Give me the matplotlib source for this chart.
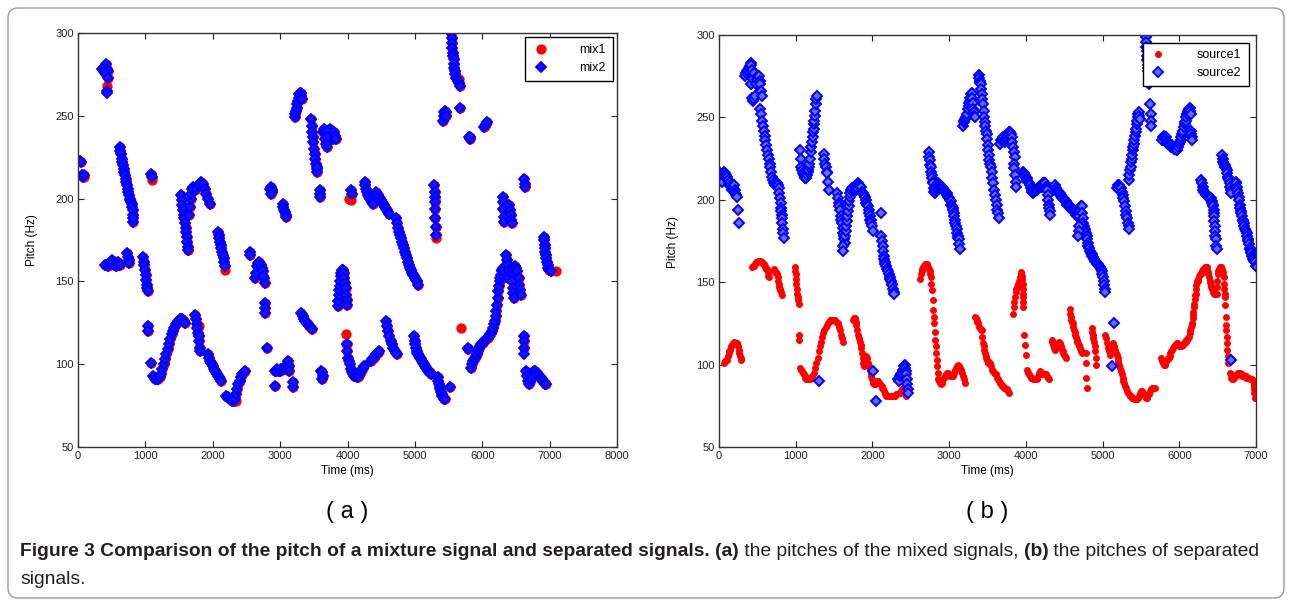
import numpy as np
import matplotlib
matplotlib.use("Agg")
import matplotlib.pyplot as plt
from matplotlib.patches import FancyBboxPatch

W, H = 1292, 604

# ---- panel (a): pitch of the mixed signals (mix1 and mix2 nearly coincide) ----
mix_shared = [
    (360, 278), (380, 279), (400, 280), (415, 281), (430, 278), (450, 277), (400, 276), (440, 273),
    (435, 265),
    (30, 223), (40, 222), (60, 214), (80, 213), (90, 214),
    (620, 231), (630, 229), (640, 227), (650, 224), (660, 222), (668, 220), (678, 218), (688, 216),
    (698, 214), (708, 212), (717, 210), (727, 208), (737, 206), (747, 204), (757, 202), (767, 200),
    (777, 199), (787, 198), (797, 197), (807, 195), (816, 193), (820, 190), (816, 186), (812, 188),
    (1090, 215), (1095, 213),
    (400, 160), (420, 160), (440, 159), (460, 161), (480, 162), (500, 163), (520, 162), (540, 160),
    (560, 159), (580, 161), (600, 162), (620, 160),
    (730, 167), (740, 165), (750, 163), (755, 161),
    (965, 165), (975, 162), (985, 160), (995, 157), (1005, 154), (1014, 151), (1022, 148), (1030, 146),
    (1039, 144),
    (1040, 123), (1045, 120), (1078, 101),
    (1110, 93), (1130, 92), (1150, 91), (1170, 91), (1190, 91), (1210, 92), (1230, 94), (1250, 97),
    (1270, 100), (1290, 103), (1310, 106), (1330, 109), (1350, 112), (1370, 115), (1390, 118),
    (1410, 120), (1430, 122), (1450, 124), (1470, 125), (1490, 126), (1510, 127), (1530, 127),
    (1550, 127), (1570, 126), (1584, 125),
    (1533, 202), (1540, 199), (1550, 196), (1560, 193), (1570, 190), (1580, 188), (1590, 185),
    (1600, 182), (1608, 180), (1615, 177), (1625, 174), (1633, 171), (1640, 169),
    (1650, 190), (1660, 195), (1670, 200), (1683, 203), (1695, 206), (1707, 207), (1720, 206),
    (1740, 205), (1757, 206), (1775, 208), (1800, 209), (1830, 210), (1856, 209), (1880, 206),
    (1905, 203), (1930, 200), (1955, 197),
    (1742, 130), (1752, 127), (1762, 124), (1772, 122), (1780, 119), (1790, 117), (1800, 114),
    (1806, 110), (1810, 108),
    (1930, 106), (1945, 104), (1960, 102), (1975, 101), (1990, 100), (2005, 99), (2020, 97),
    (2035, 96), (2050, 95), (2065, 94), (2079, 93), (2095, 92), (2110, 91), (2118, 90),
    (2079, 180), (2090, 178), (2100, 176), (2110, 174), (2120, 172), (2128, 170), (2140, 168),
    (2150, 166), (2160, 164), (2170, 162), (2178, 159),
    (2190, 81), (2210, 80), (2230, 80), (2250, 79), (2270, 79), (2290, 78), (2310, 78), (2330, 79),
    (2340, 82), (2360, 85), (2380, 88), (2400, 90), (2420, 92), (2440, 94), (2460, 95), (2475, 96),
    (2550, 168), (2555, 166),
    (2620, 152), (2640, 155), (2660, 159), (2671, 161), (2690, 162), (2710, 160), (2730, 158),
    (2745, 156), (2760, 152), (2770, 149), (2750, 153),
    (2770, 137), (2775, 134), (2772, 131), (2810, 110),
    (2855, 206), (2865, 207), (2875, 205), (2885, 204), (2870, 203),
    (3040, 197), (3050, 195), (3060, 193), (3070, 192), (3080, 190), (3090, 189),
    (2920, 96), (2940, 96), (2960, 97), (2980, 96), (3000, 96), (3020, 97), (3040, 97), (3060, 97),
    (3080, 98), (3100, 100), (3116, 102), (3125, 99), (3130, 96),
    (2918, 87), (3190, 86), (3185, 89),
    (3215, 249), (3225, 251), (3235, 253), (3245, 255), (3255, 257), (3265, 259), (3275, 261),
    (3285, 263), (3295, 264), (3304, 264), (3315, 262), (3320, 260),
    (3315, 131), (3335, 129), (3355, 127), (3375, 126), (3395, 125), (3415, 124), (3435, 123),
    (3455, 122), (3475, 121),
    (3462, 248), (3470, 244), (3478, 240), (3487, 237), (3495, 234), (3503, 230), (3512, 227),
    (3520, 224), (3530, 221), (3540, 218), (3551, 216), (3545, 219),
    (3586, 205), (3596, 203), (3590, 201),
    (3610, 96), (3620, 95), (3630, 93), (3625, 91),
    (3640, 240), (3650, 242), (3660, 240), (3670, 236), (3680, 233), (3690, 231), (3700, 234),
    (3715, 238), (3730, 240), (3745, 242), (3760, 240), (3770, 238), (3780, 236), (3700, 241),
    (3690, 237), (3800, 240), (3815, 238), (3828, 236),
    (3858, 135), (3865, 138), (3870, 142), (3878, 145), (3883, 147), (3890, 150), (3900, 153),
    (3910, 155), (3920, 157), (3932, 157), (3945, 155), (3955, 152), (3965, 149), (3975, 146),
    (3982, 142), (3990, 139), (3995, 136),
    (3996, 112), (3996, 108), (4010, 104), (4020, 102), (4031, 100), (4045, 97), (4060, 95),
    (4080, 94), (4100, 93), (4120, 93), (4140, 92), (4155, 92), (4175, 93), (4195, 95), (4215, 97),
    (4229, 98), (4240, 99),
    (4056, 205), (4060, 203),
    (4254, 210), (4265, 208), (4275, 206), (4290, 204), (4305, 202), (4320, 201), (4335, 200),
    (4350, 199), (4365, 198), (4378, 197),
    (4353, 102), (4370, 103), (4390, 104), (4410, 105), (4430, 106), (4450, 107), (4470, 108),
    (4427, 204), (4440, 203), (4455, 202), (4470, 201), (4485, 200), (4500, 199), (4515, 198),
    (4530, 197), (4545, 196), (4560, 195), (4575, 194), (4590, 193), (4605, 192), (4620, 191),
    (4575, 126), (4590, 123), (4605, 120), (4620, 117), (4640, 114), (4660, 112), (4680, 110),
    (4700, 108), (4720, 107), (4740, 106),
    (4724, 188), (4740, 185), (4755, 182), (4770, 180), (4785, 178), (4798, 176), (4812, 174),
    (4826, 172), (4840, 170), (4855, 168), (4870, 166), (4885, 164), (4900, 162), (4915, 160),
    (4930, 158), (4946, 157), (4960, 155), (4975, 154), (4990, 153), (5005, 152), (5020, 151),
    (5035, 150), (5040, 148),
    (4985, 117), (4995, 114), (5005, 112), (5015, 110), (5025, 108), (5035, 107), (5050, 106),
    (5065, 105), (5080, 104), (5095, 103), (5110, 102), (5125, 101), (5140, 100), (5155, 99),
    (5170, 98), (5185, 97), (5200, 96), (5215, 95), (5230, 95), (5245, 94),
    (5290, 208), (5292, 204), (5294, 201), (5300, 198), (5302, 194), (5305, 188), (5308, 183),
    (5312, 178),
    (5341, 92), (5350, 90), (5360, 88), (5370, 86), (5380, 85), (5390, 83), (5400, 82), (5410, 81),
    (5420, 80), (5430, 79), (5440, 79),
    (5514, 86),
    (5540, 300), (5545, 297), (5552, 294), (5558, 291), (5564, 288), (5570, 286), (5576, 284),
    (5582, 281), (5588, 279), (5595, 277), (5602, 275), (5610, 273), (5620, 272), (5635, 271),
    (5648, 270), (5663, 268),
    (5677, 255),
    (5415, 247), (5425, 250), (5435, 252), (5445, 253), (5455, 252), (5465, 250),
    (5800, 237), (5811, 236), (5820, 237),
    (6033, 243), (6045, 244), (6060, 245), (6075, 246),
    (5786, 110), (5795, 109),
    (5836, 98), (5850, 100), (5865, 102), (5880, 103), (5895, 104), (5910, 105), (5925, 106),
    (5940, 108), (5955, 110), (5970, 111), (5985, 112), (6000, 113), (6015, 113), (6033, 114),
    (6050, 115), (6065, 116), (6080, 116), (6095, 117), (6110, 118), (6125, 119), (6140, 120),
    (6155, 122), (6170, 124), (6185, 126), (6200, 129), (6210, 132), (6220, 136), (6231, 140),
    (6240, 144), (6250, 147), (6260, 150), (6270, 152), (6281, 154), (6290, 156), (6300, 157),
    (6315, 158), (6330, 157), (6345, 155), (6360, 153), (6375, 152),
    (6355, 166), (6360, 163), (6365, 160),
    (6305, 201), (6310, 198), (6315, 194), (6320, 189), (6325, 186),
    (6400, 196), (6410, 193), (6420, 190), (6430, 187), (6440, 185),
    (6380, 160), (6400, 157), (6420, 155), (6440, 155), (6460, 157), (6480, 159), (6500, 158),
    (6520, 156), (6540, 152), (6550, 148), (6560, 145), (6570, 142),
    (6440, 150), (6450, 146), (6460, 143), (6475, 140),
    (6627, 212), (6630, 209), (6632, 207),
    (6617, 117), (6620, 114), (6622, 110),
    (6652, 96), (6665, 93), (6680, 90), (6695, 88), (6710, 89), (6725, 91), (6740, 93), (6755, 95),
    (6770, 96), (6785, 96), (6800, 95), (6815, 94), (6830, 94), (6845, 93), (6860, 92), (6875, 91),
    (6890, 91), (6905, 90), (6920, 89), (6935, 88), (6949, 88),
    (6914, 177), (6920, 175), (6925, 172), (6930, 170), (6938, 168), (6945, 166), (6952, 164),
    (6960, 162), (6970, 160), (6983, 158), (6995, 157), (7010, 157), (7023, 156),
]
mix1_extra = [(435, 268), (95, 213), (1097, 211), (1633, 169), (3982, 118), (4056, 199),
              (5300, 199), (5316, 176), (5687, 122), (7097, 156), (5662, 272), (1800, 123),
              (2345, 78), (2180, 157), (1790, 110), (4020, 200), (3985, 112)]
mix2_extra = [(437, 264), (1800, 117), (6622, 106)]

# ---- panel (b): pitch of the separated signals ----
source1_pts = [
    (61, 101), (75, 102), (90, 103), (105, 103), (115, 105), (125, 107), (135, 108), (148, 109),
    (158, 111), (170, 112), (180, 113), (192, 114), (205, 113), (215, 113), (225, 113), (235, 113),
    (245, 111), (257, 109), (265, 107), (275, 105), (282, 104), (292, 103),
    (431, 159), (442, 160), (452, 160), (463, 161), (474, 161), (485, 162), (497, 162), (508, 163),
    (518, 163), (528, 163), (540, 163), (550, 162), (560, 162), (570, 161), (583, 161), (595, 160),
    (605, 159), (615, 158), (627, 158), (635, 156), (642, 154), (648, 153),
    (713, 158), (722, 157), (730, 156), (740, 156), (750, 155), (757, 155), (765, 153), (772, 151),
    (779, 149), (785, 147), (792, 146), (800, 145), (810, 144), (822, 142),
    (987, 159), (993, 157), (999, 155), (1005, 152), (1010, 149), (1014, 146), (1018, 143),
    (1025, 141), (1032, 139), (1040, 137),
    (1040, 118), (1045, 115),
    (1061, 98), (1070, 97), (1080, 96), (1090, 95), (1105, 94), (1115, 93), (1125, 92), (1135, 91),
    (1148, 91), (1160, 91), (1170, 91), (1180, 91), (1190, 92), (1200, 92), (1213, 93), (1235, 95),
    (1255, 98), (1270, 101), (1285, 104), (1300, 108), (1315, 111), (1330, 114), (1345, 117),
    (1360, 119), (1375, 121), (1390, 123), (1405, 124), (1420, 125), (1435, 126), (1450, 127),
    (1470, 127), (1490, 127), (1510, 127), (1530, 126), (1550, 125), (1565, 123), (1580, 121),
    (1592, 118), (1600, 116), (1614, 114),
    (1750, 127), (1760, 128), (1770, 128), (1780, 126), (1790, 124), (1800, 121), (1813, 118),
    (1825, 116), (1835, 114), (1848, 112), (1855, 110), (1865, 107), (1875, 104), (1883, 101),
    (1892, 99), (1900, 100), (1910, 103), (1920, 105), (1930, 104), (1944, 101), (1955, 99),
    (1965, 97), (1975, 95), (1987, 93), (2000, 91), (2010, 89), (2020, 88), (2031, 88), (2045, 89),
    (2060, 90), (2074, 90), (2090, 89), (2105, 88), (2120, 87), (2130, 86), (2140, 85), (2150, 84),
    (2160, 83), (2170, 82), (2183, 81), (2200, 81), (2215, 81), (2227, 81), (2240, 81), (2255, 81),
    (2270, 81), (2292, 81), (2310, 82), (2325, 82), (2340, 83), (2357, 83), (2370, 84), (2385, 85),
    (2400, 86), (2412, 84), (2422, 82), (2432, 81),
    (2618, 152), (2628, 155), (2640, 157), (2651, 158), (2661, 159), (2672, 160), (2683, 161),
    (2694, 161), (2705, 161), (2716, 160), (2727, 159), (2737, 158), (2748, 157), (2755, 155),
    (2761, 153), (2770, 149), (2779, 145), (2785, 139), (2792, 133), (2798, 129), (2805, 125),
    (2814, 120), (2822, 115), (2828, 111), (2835, 107), (2842, 103), (2848, 99), (2852, 95),
    (2857, 91), (2870, 90), (2883, 89), (2896, 88), (2909, 89), (2920, 91), (2932, 92), (2944, 93),
    (2955, 94), (2966, 94), (2976, 95), (2987, 95), (3000, 94), (3012, 93), (3025, 93), (3040, 93),
    (3053, 93), (3065, 95), (3078, 97), (3090, 98), (3105, 99), (3118, 100), (3130, 99), (3140, 98),
    (3150, 97), (3161, 97), (3170, 95), (3180, 93), (3190, 91), (3205, 89),
    (3335, 129), (3345, 128), (3357, 127), (3368, 126), (3379, 125), (3390, 123), (3400, 122),
    (3411, 121), (3422, 121), (3433, 117), (3444, 113), (3452, 111), (3460, 109), (3467, 107),
    (3474, 105), (3480, 104), (3490, 103), (3500, 102), (3509, 101), (3520, 101), (3531, 101),
    (3545, 99), (3560, 97), (3575, 96), (3590, 95), (3605, 94), (3620, 92), (3635, 91), (3650, 90),
    (3661, 89), (3675, 88), (3690, 87), (3705, 87), (3717, 86), (3727, 86), (3740, 85), (3755, 85),
    (3770, 84), (3783, 83),
    (3835, 131), (3840, 135), (3846, 138), (3857, 141), (3865, 144), (3875, 146), (3885, 147),
    (3901, 149), (3910, 151), (3920, 153), (3931, 155), (3938, 156), (3945, 154), (3950, 152),
    (3957, 149), (3960, 146), (3963, 143), (3966, 141), (3966, 138), (3966, 135),
    (3975, 118), (3988, 112), (4001, 106),
    (4018, 97), (4030, 95), (4040, 94), (4050, 93), (4063, 92), (4075, 92), (4090, 91), (4105, 91),
    (4120, 91), (4140, 91), (4155, 93), (4170, 95), (4185, 96), (4205, 95), (4220, 94), (4235, 94),
    (4250, 94), (4262, 94), (4275, 93), (4290, 92), (4305, 91),
    (4336, 115), (4345, 114), (4355, 112), (4365, 110), (4379, 109), (4390, 110), (4400, 111),
    (4410, 112), (4420, 113), (4435, 114), (4444, 113), (4455, 111), (4465, 109), (4478, 108),
    (4488, 107), (4500, 106), (4510, 105), (4522, 104),
    (4575, 134), (4580, 131), (4587, 129), (4594, 127), (4600, 126), (4609, 125), (4618, 123),
    (4627, 121), (4636, 120), (4645, 118), (4653, 117), (4662, 115), (4670, 114), (4680, 113),
    (4690, 112), (4696, 111), (4705, 110), (4713, 109), (4720, 108), (4727, 107),
    (4780, 107), (4783, 101), (4788, 92), (4792, 86),
    (4857, 122), (4865, 120), (4872, 118), (4880, 116), (4888, 114), (4895, 111), (4901, 108),
    (4908, 104), (4914, 100),
    (5031, 118), (5045, 116), (5060, 113), (5074, 110), (5085, 108), (5095, 106),
    (5139, 113), (5150, 111), (5160, 109), (5172, 107), (5183, 106), (5195, 104), (5205, 102),
    (5215, 100), (5226, 98), (5236, 96), (5248, 94), (5260, 92), (5270, 90), (5280, 89), (5290, 87),
    (5300, 86), (5313, 84), (5325, 83), (5340, 82), (5355, 81), (5370, 81), (5387, 80), (5400, 80),
    (5415, 79), (5430, 79), (5444, 79), (5460, 80), (5475, 81), (5490, 83), (5500, 84), (5509, 84),
    (5520, 83), (5535, 82), (5550, 81), (5563, 80), (5574, 80), (5585, 81), (5600, 82), (5615, 84),
    (5630, 85), (5645, 86), (5660, 86), (5678, 86),
    (5765, 104), (5775, 102), (5787, 101), (5800, 100), (5809, 100), (5820, 101), (5833, 102),
    (5845, 103), (5855, 104), (5865, 104), (5875, 105), (5885, 107), (5895, 108), (5910, 109),
    (5921, 110), (5933, 111), (5945, 112), (5955, 112), (5965, 113), (5974, 113), (5985, 112),
    (5995, 111), (6008, 111), (6018, 111), (6026, 111), (6035, 112), (6045, 112), (6055, 113),
    (6065, 113), (6075, 114), (6083, 114), (6092, 115), (6100, 115), (6110, 116), (6118, 116),
    (6126, 117), (6135, 119), (6145, 121), (6155, 123), (6162, 124), (6169, 125), (6175, 128),
    (6180, 130), (6185, 132), (6191, 135), (6197, 137), (6203, 140), (6208, 142), (6213, 143),
    (6218, 146), (6222, 148), (6228, 150), (6235, 151), (6243, 151), (6250, 152), (6260, 154),
    (6270, 155), (6278, 155), (6290, 157), (6300, 157), (6310, 158), (6322, 158), (6333, 159),
    (6345, 159), (6357, 159), (6365, 157), (6372, 156), (6380, 155), (6387, 153), (6395, 151),
    (6403, 150), (6410, 148), (6417, 147), (6425, 146), (6435, 145), (6443, 144), (6452, 143),
    (6460, 143), (6470, 143), (6478, 143), (6487, 143), (6492, 147), (6496, 151), (6500, 155),
    (6510, 157), (6520, 158), (6530, 159), (6540, 159), (6550, 159), (6561, 158), (6570, 156),
    (6578, 153), (6583, 149), (6588, 146), (6592, 143), (6596, 141), (6600, 136), (6604, 129),
    (6608, 124), (6612, 121), (6617, 117), (6622, 113), (6626, 109), (6630, 105), (6635, 101),
    (6661, 95), (6670, 94), (6680, 92), (6691, 91), (6700, 91), (6712, 92), (6723, 93), (6735, 93),
    (6748, 94), (6760, 95), (6770, 95), (6780, 95), (6791, 95), (6802, 94), (6813, 94), (6823, 93),
    (6833, 93), (6843, 93), (6855, 93), (6866, 93), (6875, 92), (6885, 92), (6896, 92), (6910, 92),
    (6924, 91), (6938, 91), (6952, 91), (6962, 90), (6970, 88), (6974, 87), (6978, 85), (6980, 83),
    (6983, 80),
]

source2_pts = [
    (18, 216), (30, 214), (40, 211), (50, 215), (61, 217), (75, 216), (90, 215), (105, 214),
    (115, 212), (126, 209), (135, 210), (148, 211), (160, 209), (170, 206), (180, 208), (192, 209),
    (203, 206), (213, 204), (222, 203), (235, 202), (248, 194), (257, 186),
    (344, 275), (355, 277), (365, 278), (375, 279), (387, 280), (400, 281), (412, 283), (422, 282),
    (432, 279), (440, 276), (431, 271), (420, 270), (445, 273), (452, 277), (431, 262), (440, 260),
    (452, 261), (465, 263), (480, 270), (496, 273), (505, 275), (518, 275), (528, 272), (540, 270),
    (550, 266), (561, 263),
    (540, 255), (550, 252), (561, 248), (572, 245), (583, 242), (594, 239), (605, 236), (616, 233),
    (627, 230), (638, 227), (648, 225), (659, 222), (670, 220), (681, 217), (692, 214), (703, 212),
    (713, 210), (725, 209), (735, 210), (744, 211), (757, 210), (770, 209), (780, 207), (787, 204),
    (796, 201), (805, 198), (810, 195), (813, 193), (818, 191), (822, 189), (826, 186), (831, 182),
    (838, 180), (844, 177),
    (1061, 230), (1068, 225), (1074, 220), (1085, 218), (1095, 216), (1105, 215), (1115, 214),
    (1125, 213), (1135, 213), (1145, 215), (1155, 217), (1161, 218), (1170, 220), (1179, 222),
    (1192, 225), (1198, 229), (1205, 232), (1213, 235), (1222, 238), (1228, 241), (1235, 243),
    (1240, 246), (1244, 248), (1250, 251), (1257, 254), (1263, 258), (1270, 261), (1279, 263),
    (1300, 90),
    (1366, 228), (1375, 225), (1387, 222), (1395, 220), (1405, 217), (1409, 216), (1420, 211),
    (1431, 206),
    (1540, 204), (1550, 201), (1561, 198), (1570, 196), (1583, 194), (1590, 190), (1595, 188),
    (1605, 186), (1612, 183), (1617, 180), (1626, 178), (1632, 176), (1640, 174), (1620, 172),
    (1614, 169), (1648, 178), (1655, 181), (1660, 184), (1665, 187), (1670, 190), (1680, 193),
    (1692, 196), (1700, 199), (1706, 202), (1713, 204), (1724, 206), (1735, 207),
    (1770, 208), (1780, 207), (1790, 206), (1800, 207), (1813, 210), (1825, 209), (1840, 208),
    (1857, 208), (1870, 205), (1880, 204), (1890, 203), (1900, 202), (1910, 200), (1920, 198),
    (1930, 197), (1944, 196), (1950, 194), (1960, 192), (1965, 190), (1970, 188), (1979, 188),
    (1985, 186), (1995, 184), (2009, 181),
    (2109, 192),
    (2118, 178), (2125, 175), (2132, 172), (2140, 169), (2148, 166), (2155, 164), (2162, 162),
    (2170, 161), (2180, 160), (2190, 158), (2205, 157), (2215, 155), (2225, 153), (2232, 152),
    (2240, 151), (2250, 149), (2260, 148), (2270, 146), (2277, 144), (2283, 143),
    (2009, 96), (2053, 78),
    (2327, 91), (2340, 90), (2355, 93), (2370, 94), (2379, 95), (2395, 97), (2410, 99), (2422, 100),
    (2430, 98), (2436, 96), (2444, 94), (2450, 91), (2456, 88), (2462, 85), (2466, 83),
    (2735, 229), (2740, 226), (2746, 224), (2752, 221), (2761, 220), (2766, 217), (2772, 215),
    (2778, 213), (2785, 211), (2792, 210), (2800, 207), (2806, 205), (2813, 204), (2822, 206),
    (2830, 207), (2840, 208), (2850, 209), (2857, 210), (2865, 209), (2875, 209), (2885, 208),
    (2895, 208), (2909, 208), (2920, 207), (2930, 206), (2940, 205), (2950, 205), (2966, 204),
    (2975, 203), (2985, 202), (2995, 201), (3009, 200), (3018, 199), (3027, 197), (3036, 196),
    (3045, 195), (3053, 194), (3060, 192), (3067, 190), (3074, 188), (3080, 186), (3087, 184),
    (3096, 182), (3105, 180), (3113, 178), (3120, 177), (3127, 176), (3133, 173), (3140, 170),
    (3183, 245), (3190, 247), (3200, 248), (3210, 249), (3220, 250), (3227, 250), (3235, 252),
    (3245, 255), (3255, 257), (3262, 259), (3270, 260), (3278, 262), (3285, 264), (3292, 265),
    (3300, 262), (3305, 259), (3314, 255), (3322, 253), (3328, 251), (3335, 250),
    (3387, 276), (3394, 274), (3400, 272), (3407, 271), (3414, 270), (3420, 267), (3425, 264),
    (3431, 261), (3440, 258), (3448, 254), (3457, 250), (3465, 247), (3472, 245), (3480, 242),
    (3487, 240), (3494, 237), (3502, 233), (3509, 230), (3516, 227), (3524, 224), (3531, 222),
    (3540, 220), (3553, 217), (3565, 213), (3574, 210), (3585, 206), (3596, 203), (3607, 200),
    (3618, 197), (3630, 194), (3640, 192), (3653, 189),
    (3661, 234), (3672, 236), (3683, 237), (3694, 237), (3705, 238), (3716, 236), (3727, 235),
    (3738, 236), (3748, 237), (3760, 239), (3770, 240), (3780, 241), (3792, 241), (3803, 240),
    (3814, 238), (3825, 235), (3835, 232), (3846, 229), (3857, 226), (3850, 222), (3844, 219),
    (3857, 215), (3870, 211), (3870, 208),
    (3966, 217), (3975, 216), (3985, 215), (3995, 214), (4009, 213), (4020, 212), (4030, 211),
    (4040, 210), (4053, 209), (4065, 207), (4075, 206), (4085, 205), (4096, 204), (4110, 205),
    (4120, 206), (4130, 206), (4140, 206), (4152, 207), (4165, 208), (4178, 208), (4190, 208),
    (4205, 208), (4215, 209), (4225, 210), (4237, 210), (4248, 210), (4260, 208), (4270, 207),
    (4279, 206), (4285, 203), (4292, 200), (4298, 197), (4305, 195), (4310, 193), (4314, 191),
    (4379, 209), (4390, 207), (4400, 206), (4412, 205), (4422, 205), (4433, 204), (4444, 204),
    (4455, 203), (4466, 202), (4477, 201), (4488, 201), (4499, 200), (4509, 200), (4520, 199),
    (4532, 198), (4542, 197), (4553, 197), (4564, 196), (4575, 196), (4585, 195), (4596, 194),
    (4607, 194), (4618, 193), (4630, 193), (4640, 193), (4650, 192), (4660, 191), (4670, 190),
    (4683, 190), (4696, 190), (4710, 193), (4720, 196), (4727, 196), (4735, 192), (4742, 189),
    (4748, 186), (4756, 184), (4765, 182), (4775, 181), (4783, 180), (4792, 178), (4800, 176),
    (4808, 174), (4815, 172), (4823, 171), (4836, 169), (4846, 168), (4856, 167), (4867, 166),
    (4879, 165), (4890, 164), (4900, 163), (4910, 162), (4920, 162), (4932, 161), (4944, 161),
    (4955, 160), (4966, 159), (4977, 158), (4988, 157), (4998, 155), (5008, 153), (5018, 151),
    (5022, 148), (5026, 146), (5031, 144),
    (4696, 184), (4690, 181), (4680, 178),
    (5149, 125), (5118, 99),
    (5183, 207), (5195, 209), (5210, 209), (5225, 208), (5240, 207), (5250, 205), (5260, 203),
    (5270, 201), (5280, 199), (5290, 196), (5300, 193), (5310, 191), (5320, 189), (5330, 186),
    (5338, 184), (5345, 182),
    (5343, 212), (5350, 215), (5358, 218), (5365, 220), (5372, 223), (5380, 225), (5387, 227),
    (5395, 230), (5402, 232), (5408, 234), (5415, 236), (5422, 239), (5430, 241), (5438, 243),
    (5445, 246), (5452, 248), (5460, 250), (5468, 252), (5474, 253), (5480, 251), (5487, 249),
    (5561, 299), (5565, 296), (5570, 293), (5574, 290), (5578, 287), (5582, 285), (5587, 282),
    (5591, 280), (5595, 278), (5600, 274), (5604, 270), (5617, 258), (5626, 252), (5631, 248),
    (5635, 245),
    (5778, 236), (5790, 238), (5800, 239), (5812, 238), (5822, 238), (5833, 236), (5845, 235),
    (5856, 234), (5865, 233), (5878, 233), (5890, 232), (5900, 232), (5910, 233), (5921, 232),
    (5932, 231), (5943, 231), (5955, 231), (5966, 230), (5974, 230), (5985, 232), (5995, 234),
    (6005, 235), (6017, 236), (6025, 238), (6035, 240), (6043, 241), (6052, 242), (6060, 244),
    (6068, 246), (6075, 247), (6083, 248), (6093, 250), (6103, 252), (6112, 253), (6120, 254),
    (6126, 255), (6135, 256), (6142, 254), (6150, 252), (6148, 242), (6152, 240), (6160, 238),
    (6169, 236),
    (6287, 212), (6295, 210), (6303, 208), (6313, 206), (6325, 205), (6335, 204), (6345, 203),
    (6355, 203), (6365, 203), (6375, 202), (6387, 202), (6398, 201), (6409, 201), (6420, 199),
    (6430, 198), (6438, 197), (6443, 196), (6447, 194), (6450, 192), (6452, 190), (6456, 187),
    (6461, 184), (6465, 181), (6470, 178), (6474, 176), (6480, 172), (6487, 170),
    (6561, 227), (6570, 225), (6576, 223), (6583, 222), (6590, 221), (6600, 220), (6610, 219),
    (6617, 218), (6625, 216), (6632, 214), (6640, 213), (6648, 212), (6655, 210), (6662, 208),
    (6670, 206), (6675, 204),
    (6735, 211), (6742, 210), (6750, 208), (6757, 206), (6765, 204), (6772, 202), (6778, 200),
    (6786, 197), (6795, 195), (6802, 193), (6809, 192), (6818, 190), (6826, 188), (6834, 187),
    (6843, 186), (6850, 184), (6860, 182), (6870, 181), (6878, 180), (6885, 178), (6893, 176),
    (6900, 175), (6909, 173), (6917, 171), (6925, 170), (6932, 169), (6939, 168), (6948, 166),
    (6956, 165), (6965, 164), (6974, 163), (6985, 162), (6995, 160), (7009, 159),
    (6670, 103),
]

xticks_a = [0, 1000, 2000, 3000, 4000, 5000, 6000, 7000, 8000]
xticks_b = [0, 1000, 2000, 3000, 4000, 5000, 6000, 7000]
yticks = [50, 100, 150, 200, 250, 300]

plt.rcParams['font.family'] = ['Liberation Sans', 'DejaVu Sans']

fig = plt.figure(figsize=(W / 100, H / 100), dpi=100)
fig.patch.set_facecolor('white')

ax_a = fig.add_axes([78 / W, 1 - 447 / H, 539 / W, 414 / H])
ax_b = fig.add_axes([719 / W, 1 - 447 / H, 537 / W, 412 / H])

mix1 = np.array(mix_shared + mix1_extra)
mix2 = np.array(mix_shared + mix2_extra)
src1 = np.array(source1_pts)
src2 = np.array(source2_pts)

ax_a.plot(mix1[:, 0], mix1[:, 1], 'o', ls='none', color='#ff0000', ms=6.4, mec='#ff0000',
          label='mix1')
ax_a.plot(mix2[:, 0], mix2[:, 1], 'D', ls='none', color='#0000ff', ms=5.0, mec='#0000ff',
          mfc='#1414ff', mew=1.3, label='mix2')

ax_b.plot(src1[:, 0], src1[:, 1], 'o', ls='none', color='#ff0000', ms=4.0, mec='#ff0000',
          label='source1')
ax_b.plot(src2[:, 0], src2[:, 1], 'D', ls='none', color='#0000ff', ms=4.6, mec='#0000ff',
          mfc='#6a6aff', mew=1.4, label='source2')

for ax, xt, xmax in [(ax_a, xticks_a, 8000), (ax_b, xticks_b, 7000)]:
    ax.set_xlim(0, xmax)
    ax.set_ylim(50, 300)
    ax.set_xticks(xt)
    ax.set_yticks(yticks)
    ax.tick_params(direction='in', length=4, width=0.8, top=True, right=True,
                   labelsize=8, pad=3, colors='#222222')
    for sp in ax.spines.values():
        sp.set_linewidth(1.0)
        sp.set_color('#333333')

leg_kw = dict(loc='upper right', fancybox=False, edgecolor='black', framealpha=1,
              fontsize=9, handlelength=1.4, handletextpad=2.4, borderpad=0.55,
              labelspacing=0.45, markerscale=1.0)
la = ax_a.legend(borderaxespad=0.35, **leg_kw)
lb = ax_b.legend(borderaxespad=0.6, **leg_kw)
for lg in (la, lb):
    lg.get_frame().set_linewidth(1.0)

# axis labels
for xc in (347, 987):
    fig.text(xc / W, 1 - 471 / H, 'Time (ms)', ha='center', va='center', fontsize=8.5)
fig.text(32 / W, 1 - 240 / H, 'Pitch (Hz)', ha='center', va='center', rotation=90, fontsize=8.5)
fig.text(673 / W, 1 - 242 / H, 'Pitch (Hz)', ha='center', va='center', rotation=90, fontsize=8.5)

# panel letters
fig.text(347 / W, 1 - 512 / H, '( a )', ha='center', va='center', fontsize=17)
fig.text(987 / W, 1 - 512 / H, '( b )', ha='center', va='center', fontsize=17)

# caption with bold and regular pieces
cap_font = ['Liberation Sans Narrow', 'Liberation Sans', 'DejaVu Sans']
line1 = [("Figure 3 Comparison of the pitch of a mixture signal and separated signals.", 'bold'),
         (" ", 'normal'), ("(a)", 'bold'),
         (" the pitches of the mixed signals, ", 'normal'), ("(b)", 'bold'),
         (" the pitches of separated", 'normal')]
fig.canvas.draw()
rend = fig.canvas.get_renderer()


def place_line(parts, x0, y, size):
    x = x0
    arts = []
    for txt, wt in parts:
        t = fig.text(x / W, 1 - y / H, txt, fontsize=size, fontweight=wt, family=cap_font,
                     ha='left', va='center', color='#231f20')
        bb = t.get_window_extent(rend)
        x += bb.width
        arts.append(t)
    return x, arts


end, arts = place_line(line1, 20, 551, 10)
scale = (1262 - 20) / (end - 20)
for a in arts:
    a.remove()
cap_size = 10 * scale
place_line(line1, 20, 551, cap_size)
place_line([("signals.", 'normal')], 20, 580, cap_size)

# rounded frame around the whole figure
frame = FancyBboxPatch((8, 6), W - 16, H - 14, boxstyle='round,pad=0,rounding_size=10',
                       transform=None, fill=False, edgecolor='#9a9a9a', linewidth=1.0)
fig.patches.append(frame)

fig.savefig('out.png', dpi=100)
